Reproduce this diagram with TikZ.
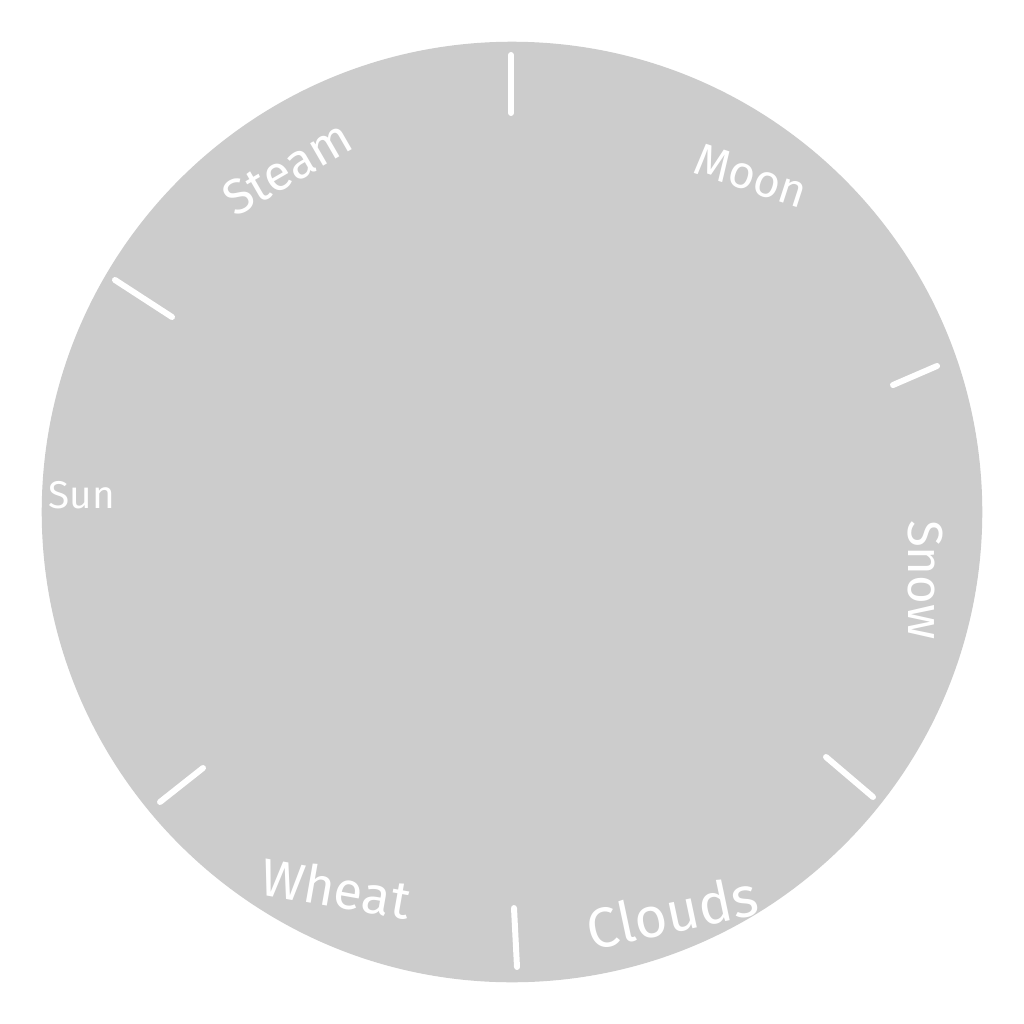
\documentclass[tikz,border=0pt]{standalone}
\usepackage{fontspec}
\setmainfont{Fira Sans}
\begin{document}
\begin{tikzpicture}[x=0.01cm,y=-0.01cm,
  tick/.style={draw=white,line width=1.7pt,line cap=round},
  lbl/.style={text=white,inner sep=0pt,font=\fontsize{#1}{#1}\selectfont}]
\useasboundingbox (0,0) rectangle (1024,1024);
\fill[white] (0,0) rectangle (1024,1024);
\node[circle,fill={rgb,255:red,204;green,204;blue,204},minimum size=9.4cm,inner sep=0pt] (dial) at (512,512) {};
\coordinate (t1a) at (511,55); \coordinate (t1b) at (511,113);
\coordinate (t2a) at (115,280); \coordinate (t2b) at (172,317);
\coordinate (t3a) at (893,385); \coordinate (t3b) at (937,366);
\coordinate (t4a) at (826,757); \coordinate (t4b) at (873,797);
\coordinate (t5a) at (514,908); \coordinate (t5b) at (517,967);
\coordinate (t6a) at (160,802); \coordinate (t6b) at (203,768);
\draw[tick] (t1a) -- (t1b);
\draw[tick] (t2a) -- (t2b);
\draw[tick] (t3a) -- (t3b);
\draw[tick] (t4a) -- (t4b);
\draw[tick] (t5a) -- (t5b);
\draw[tick] (t6a) -- (t6b);
\node[lbl=14,rotate=30] (steam) at (287,168) {Steam};
\node[lbl=13,rotate=-18] (moon) at (751,176) {Moon};
\node[lbl=14,rotate=-90] (snow) at (925,580) {Snow};
\node[lbl=16,rotate=12] (clouds) at (672,912) {Clouds};
\node[lbl=15,rotate=-10] (wheat) at (336,888) {Wheat};
\node[lbl=11] (sun) at (82,495) {Sun};
\end{tikzpicture}
\end{document}
